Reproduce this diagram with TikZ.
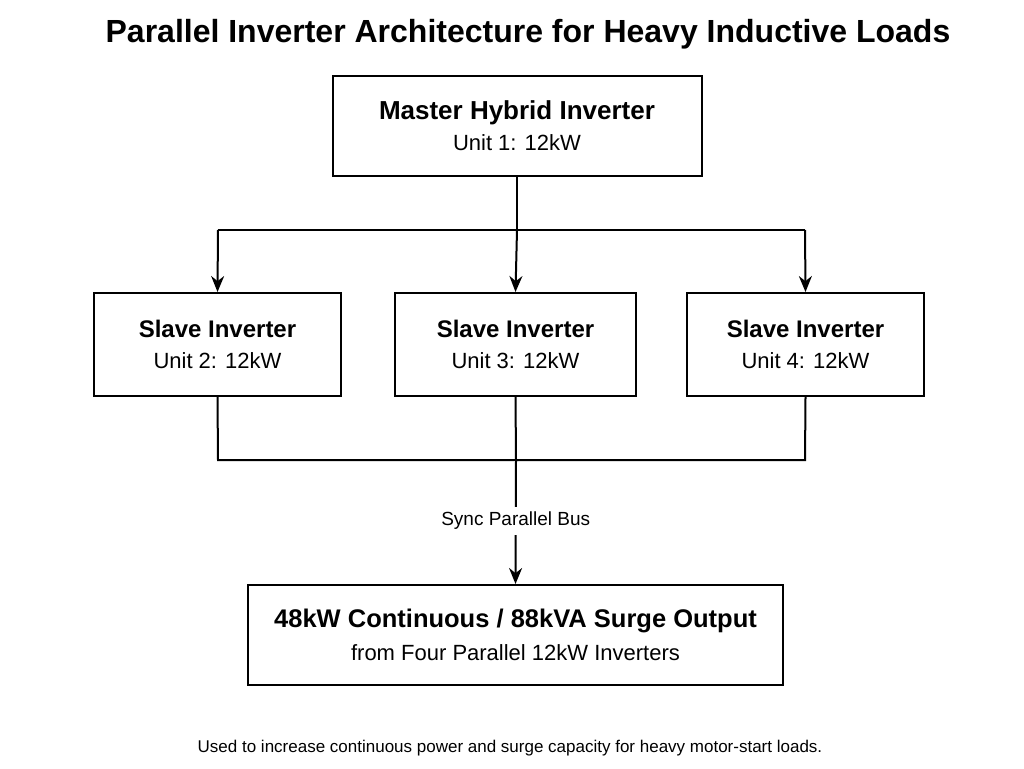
\documentclass[tikz,border=0pt]{standalone}
\usepackage{fontspec}
\setmainfont{Liberation Sans}
\usetikzlibrary{positioning,arrows.meta}
\tikzset{
    unit/.style={draw, line width=2pt, minimum height=100pt, align=center, inner sep=0pt},
    link/.style={line width=2pt},
    feed/.style={line width=2pt, -{Stealth[length=16pt,width=13pt]}}
}
\begin{document}
\begin{tikzpicture}[x=1pt, y=-1pt]
    \useasboundingbox (0,0) rectangle (1024,768);
    \node[font=\fontsize{32}{36}\selectfont\bfseries] (title) at (528,34) {Parallel Inverter Architecture for Heavy Inductive Loads};

    \node[unit, minimum width=369pt] (master) at (517,126) {\fontsize{26}{30}\selectfont\bfseries Master Hybrid Inverter\\[9pt]\fontsize{22}{26}\selectfont Unit 1: 12kW};

    \node[unit, minimum width=247pt, minimum height=103pt] (s2) at (217.5,344.5) {\fontsize{24}{28}\selectfont\bfseries Slave Inverter\\[14pt]\fontsize{22}{26}\selectfont Unit 2: 12kW};
    \node[unit, minimum width=241pt, minimum height=103pt] (s3) at (515.5,344.5) {\fontsize{24}{28}\selectfont\bfseries Slave Inverter\\[14pt]\fontsize{22}{26}\selectfont Unit 3: 12kW};
    \node[unit, minimum width=237pt, minimum height=103pt] (s4) at (805.5,344.5) {\fontsize{24}{28}\selectfont\bfseries Slave Inverter\\[14pt]\fontsize{22}{26}\selectfont Unit 4: 12kW};

    \node[unit, minimum width=535pt] (out) at (515.5,635) {\fontsize{25.5}{30}\selectfont\bfseries 48kW Continuous / 88kVA Surge Output\\[10pt]\fontsize{22}{26}\selectfont from Four Parallel 12kW Inverters};

    \node[font=\fontsize{17}{20}\selectfont] (note) at (510,748) {Used to increase continuous power and surge capacity for heavy motor-start loads.};

    % master feeds the three slaves
    \coordinate (split) at (517,230);
    \coordinate (left) at (218,230);
    \coordinate (right) at (805,230);
    \draw[link] (master.south) -- (split);
    \draw[link] (left) -- (right);
    \draw[feed] (left) -- (s2.north);
    \draw[feed] (split) -- (s3.north);
    \draw[feed] (right) -- (s4.north);

    % sync bus
    \coordinate (bl) at (218,460);
    \coordinate (bm) at (516,460);
    \coordinate (br) at (805,460);
    \draw[link] (s2.south) -- (bl) -- (br) -- (s4.south);
    \draw[link] (s3.south) -- (bm);
    \draw[feed] (bm) -- node[fill=white, font=\fontsize{19}{22}\selectfont, inner sep=5pt, pos=0.49] {Sync Parallel Bus} (out.north);
\end{tikzpicture}
\end{document}
